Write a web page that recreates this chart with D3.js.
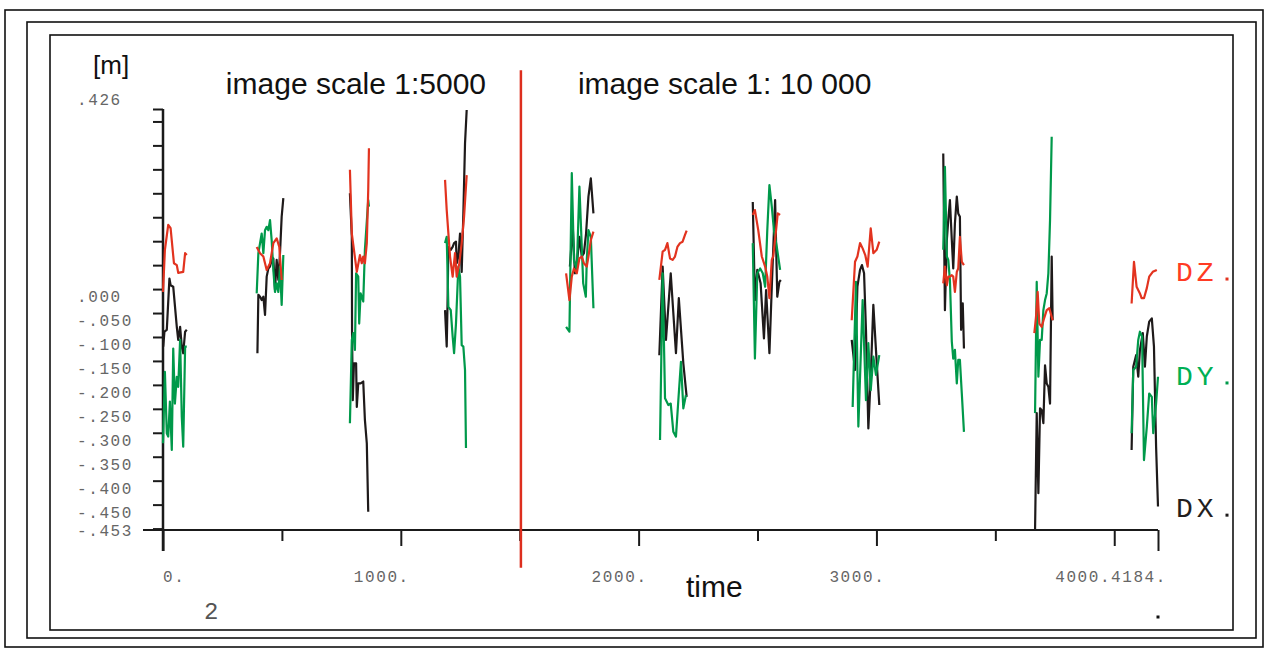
<!DOCTYPE html>
<html>
<head>
<meta charset="utf-8">
<script src="https://cdn.jsdelivr.net/npm/d3@7"></script>
<style>
  body { margin: 0; background: #fff; }
  svg { display: block; }
  .mono { font-family: "Liberation Mono", "Courier New", monospace; }
  .sans { font-family: "Liberation Sans", Arial, sans-serif; }
</style>
</head>
<body>
<div id="chart"></div>
<script>
// time range and ticks
const timeDomain = [0, 4184];
const valueDomain = [-0.453, 0.426];
const timeMinorTicks = [500, 1500, 2500, 3500];
const timeMajorTicks = [0, 1000, 2000, 3000, 4000, 4184];
const timeLabels = ['0.', '1000.', '2000.', '3000.', '4000.', '4184.'];
const valueTicks = [0.426, 0.4, 0.35, 0.3, 0.25, 0.2, 0.15, 0.1, 0.05, 0, -0.05, -0.1,
  -0.15, -0.2, -0.25, -0.3, -0.35, -0.4, -0.45];
const valueLabelValues = [0.426, 0, -0.05, -0.1, -0.15, -0.2, -0.25, -0.3, -0.35, -0.4, -0.45, -0.453];
const valueLabels = ['.426', '.000', '-.050', '-.100', '-.150', '-.200', '-.250', '-.300',
  '-.350', '-.400', '-.450', '-.453'];
const scaleSplit = 1505;
const titles = ['image scale 1:5000', 'image scale 1: 10 000'];

// legend: name, value where the marker sits
const legendNames = ['DZ', 'DY', 'DX'];
const legendValues = [0.071, -0.146, -0.422];

// each series: list of measurement runs, [time, value in m]
const dz = [
  [[0,0.044],[8,0.132],[22,0.184],[32,0.177],[46,0.104],[58,0.100],[64,0.084],[85,0.086],[93,0.125],[100,0.121]],
  [[394,0.138],[408,0.125],[422,0.118],[436,0.090],[450,0.104],[464,0.146],[478,0.156],[489,0.138],[499,0.069]],
  [[786,0.299],[794,0.166],[815,0.086],[828,0.121],[836,0.104],[842,0.118],[849,0.104],[857,0.146],[863,0.257],[866,0.344]],
  [[1186,0.278],[1193,0.215],[1207,0.118],[1218,0.076],[1228,0.125],[1235,0.076],[1246,0.104],[1256,0.146],[1266,0.201],[1277,0.288]],
  [[1695,0.083],[1709,0.027],[1719,0.076],[1728,0.093],[1740,0.083],[1751,0.114],[1761,0.118],[1770,0.104],[1782,0.097],[1789,0.118],[1799,0.152],[1810,0.170]],
  [[2087,0.069],[2101,0.128],[2111,0.132],[2121,0.146],[2132,0.114],[2143,0.111],[2153,0.118],[2163,0.138],[2174,0.146],[2185,0.149],[2195,0.163],[2202,0.172]],
  [[2480,0.205],[2489,0.215],[2503,0.173],[2518,0.118],[2532,0.097],[2541,0.076],[2550,0.031],[2560,0.111],[2566,0.118],[2578,0.173],[2585,0.208],[2595,0.205]],
  [[2896,-0.015],[2910,0.107],[2920,0.118],[2931,0.146],[2942,0.135],[2953,0.121],[2963,0.097],[2976,0.177],[2987,0.125],[3001,0.132],[3012,0.149]],
  [[3281,0.062],[3288,0.097],[3296,0.058],[3302,0.076],[3309,0.076],[3317,0.079],[3323,0.076],[3330,0.044],[3338,0.086],[3344,0.093],[3351,0.159],[3359,0.107],[3368,0.100]],
  [[3664,-0.042],[3671,-0.008],[3678,0.044],[3685,-0.022],[3695,-0.029],[3705,-0.011],[3716,0.006],[3727,0.010],[3737,-0.008],[3741,-0.015]],
  [[4073,0.020],[4083,0.107],[4094,0.055],[4108,0.041],[4115,0.031],[4125,0.031],[4137,0.052],[4147,0.076],[4162,0.086],[4179,0.090]]
];

const dy = [
  [[0,-0.272],[8,-0.123],[16,-0.251],[22,-0.258],[29,-0.185],[37,-0.286],[43,-0.074],[50,-0.189],[58,-0.133],[64,-0.154],[72,-0.056],[79,-0.217],[85,-0.279],[93,-0.070],[100,-0.070]],
  [[394,0.041],[401,0.125],[415,0.166],[422,0.125],[429,0.173],[436,0.180],[443,0.173],[450,0.194],[457,0.152],[464,0.090],[471,0.044],[478,0.062],[485,0.044],[492,0.097],[499,0.017],[506,0.121]],
  [[786,-0.230],[794,-0.056],[800,-0.042],[807,-0.077],[812,0.083],[821,0.076],[825,-0.022],[831,0.041],[836,0.034],[842,0.024],[849,0.132],[863,0.236],[866,0.222]],
  [[1186,0.146],[1193,0.159],[1200,0.013],[1210,0.006],[1218,-0.049],[1224,-0.084],[1232,-0.022],[1242,0.097],[1249,0.076],[1256,-0.067],[1263,-0.070],[1270,-0.119],[1274,-0.282]],
  [[1695,-0.029],[1709,-0.039],[1719,0.292],[1728,0.111],[1740,0.090],[1751,0.264],[1761,0.138],[1767,0.062],[1778,0.034],[1782,0.111],[1789,0.173],[1799,0.159],[1810,0.010]],
  [[2090,-0.265],[2101,0.083],[2111,-0.178],[2125,-0.192],[2135,-0.189],[2146,-0.248],[2157,-0.258],[2167,-0.182],[2178,-0.102],[2188,-0.199],[2199,-0.171]],
  [[2480,0.146],[2489,-0.095],[2499,0.083],[2511,0.093],[2522,0.083],[2532,0.055],[2541,0.173],[2550,0.267],[2560,0.222],[2569,0.173],[2581,0.138],[2595,0.090]],
  [[2900,-0.196],[2914,0.065],[2924,-0.237],[2942,0.027],[2956,-0.182],[2966,-0.063],[2976,-0.161],[2987,-0.091],[2998,-0.129],[3012,-0.088]],
  [[3281,0.132],[3288,0.305],[3296,0.118],[3302,0.111],[3309,0.069],[3317,-0.060],[3323,-0.095],[3330,-0.077],[3338,-0.147],[3344,-0.098],[3351,-0.098],[3359,-0.168],[3368,-0.248]],
  [[3667,-0.209],[3674,0.065],[3681,-0.133],[3688,-0.056],[3695,-0.056],[3702,0.006],[3709,0.027],[3716,0.041],[3723,0.083],[3730,0.194],[3737,0.368]],
  [[4073,-0.251],[4080,-0.119],[4092,-0.112],[4101,-0.056],[4108,-0.039],[4117,-0.049],[4125,-0.307],[4137,-0.237],[4147,-0.168],[4158,-0.175],[4164,-0.251],[4176,-0.189],[4184,-0.133]]
];

const dx = [
  [[1,-0.070],[6,-0.039],[16,-0.035],[27,0.072],[32,0.058],[43,0.055],[58,-0.029],[64,-0.056],[72,-0.029],[79,-0.070],[85,-0.084],[93,-0.039],[100,-0.035]],
  [[397,-0.084],[401,0.038],[408,0.034],[415,0.027],[422,0.034],[429,-0.004],[436,0.076],[443,0.093],[450,0.097],[457,0.111],[464,0.114],[471,0.048],[478,0.111],[485,0.069],[492,0.125],[499,0.201],[506,0.240]],
  [[786,0.250],[794,0.159],[795,-0.042],[798,-0.182],[803,-0.105],[812,-0.105],[815,-0.196],[821,-0.147],[831,-0.147],[842,-0.143],[849,-0.223],[857,-0.272],[863,-0.415]],
  [[1186,0.006],[1193,-0.070],[1196,0.006],[1200,0.138],[1210,0.132],[1218,0.138],[1224,0.146],[1232,0.149],[1235,0.104],[1242,0.118],[1249,0.166],[1256,0.086],[1263,0.208],[1270,0.354],[1277,0.424]],
  [[1711,0.097],[1723,0.180],[1732,0.083],[1742,0.111],[1751,0.159],[1761,0.118],[1770,0.125],[1779,0.166],[1789,0.243],[1799,0.281],[1810,0.208]],
  [[2087,-0.088],[2101,0.097],[2115,-0.056],[2135,0.083],[2157,-0.084],[2169,0.031],[2188,-0.105],[2202,-0.175]],
  [[2480,0.232],[2489,0.027],[2499,0.090],[2513,0.062],[2527,-0.053],[2536,0.048],[2550,-0.084],[2560,0.055],[2574,0.236],[2583,0.034],[2592,0.065],[2598,0.069]],
  [[2896,-0.056],[2910,-0.119],[2920,0.055],[2931,0.090],[2939,0.100],[2948,0.083],[2956,-0.035],[2966,-0.241],[2976,-0.133],[2987,0.017],[2998,-0.077],[3012,-0.192]],
  [[3281,0.333],[3288,0.006],[3296,0.152],[3302,0.194],[3309,0.236],[3317,0.152],[3323,0.093],[3330,0.187],[3338,0.243],[3344,0.208],[3351,0.201],[3356,-0.035],[3363,0.020],[3368,-0.074]],
  [[3667,-0.453],[3674,-0.209],[3681,-0.376],[3688,-0.199],[3695,-0.203],[3702,-0.230],[3709,-0.109],[3716,-0.147],[3723,-0.154],[3730,-0.189],[3737,0.118],[3741,-0.015]],
  [[4073,-0.286],[4080,-0.112],[4092,-0.088],[4101,-0.133],[4108,-0.077],[4120,-0.042],[4129,-0.112],[4137,-0.049],[4147,-0.018],[4158,-0.011],[4167,-0.070],[4176,-0.279],[4184,-0.404]]
];

const colors = { DZ: '#e2331f', DY: '#00994a', DX: '#1e1a1a' };

class Chart {

  constructor(series) {
    this.series = series;
    this.element = document.getElementById('chart');
    this.createChart();
  }

  createChart() {
    this.width = 1271;
    this.height = 649;

    this.svg = d3.select(this.element)
      .append('svg')
        .attr('width', this.width)
        .attr('height', this.height);

    this.addFrames();
    this.createScales();
    this.addAxes();
    this.addTexts();
    this.series.forEach(s => this.addLines(s.runs, colors[s.name]));
    this.addLegend();
  }

  addFrames() {
    const frames = [[5, 10, 1258, 637], [27, 22, 1229, 616], [50, 35, 1183, 595]];
    this.svg.selectAll('rect.frame')
      .data(frames)
      .join('rect')
        .attr('class', 'frame')
        .attr('x', d => d[0])
        .attr('y', d => d[1])
        .attr('width', d => d[2])
        .attr('height', d => d[3])
        .attr('fill', 'none')
        .attr('stroke', '#111')
        .attr('stroke-width', 1.6);
  }

  createScales() {
    this.xScale = d3.scaleLinear().domain(timeDomain).range([163, 1158]);
    this.yScale = d3.scaleLinear().domain(valueDomain).range([530, 109]);
  }

  addAxes() {
    const x = this.xScale, y = this.yScale;
    const base = y(valueDomain[0]);

    // y ticks
    const yAxis = d3.axisLeft(y)
      .tickValues(valueTicks)
      .tickSize(10)
      .tickSizeOuter(0)
      .tickFormat('');
    const gy = this.svg.append('g')
      .attr('transform', `translate(${x(0)},0)`)
      .call(yAxis);
    gy.select('.domain').remove();
    gy.selectAll('.tick line').attr('stroke', '#1a1a1a').attr('stroke-width', 2);

    // x ticks
    const minor = d3.axisBottom(x).tickValues(timeMinorTicks).tickSize(11).tickFormat('');
    const major = d3.axisBottom(x).tickValues(timeMajorTicks.slice(1, 5)).tickSize(16).tickFormat('');
    const ends = d3.axisBottom(x).tickValues([timeDomain[0], timeDomain[1]]).tickSize(21).tickFormat('');
    [minor, major, ends].forEach(ax => {
      const g = this.svg.append('g')
        .attr('transform', `translate(0,${base})`)
        .call(ax);
      g.select('.domain').remove();
      g.selectAll('.tick line').attr('stroke', '#1a1a1a').attr('stroke-width', 2);
    });

    // axis lines
    this.svg.append('line')
      .attr('x1', x(0)).attr('x2', x(0))
      .attr('y1', y(valueDomain[1])).attr('y2', base + 21)
      .attr('stroke', '#1a1a1a').attr('stroke-width', 2.5);
    this.svg.append('line')
      .attr('x1', x(0) - 20).attr('x2', x(timeDomain[1]))
      .attr('y1', base).attr('y2', base)
      .attr('stroke', '#1a1a1a').attr('stroke-width', 2);

    // y labels (the old plotter draws them shifted above their ticks)
    this.svg.append('g')
      .selectAll('text')
      .data(valueLabelValues)
      .join('text')
        .attr('class', 'mono')
        .attr('x', 77)
        .attr('y', (d, i) => {
          let shift = -16;
          if (i === 0) shift = -9;
          if (i === valueLabelValues.length - 1) shift = 1;
          return y(d) + shift + 5;
        })
        .attr('font-size', 16)
        .attr('letter-spacing', 1.6)
        .attr('fill', '#666')
        .text((d, i) => valueLabels[i]);

    // x labels; 4000. sits right against 4184.
    this.svg.append('g')
      .selectAll('text')
      .data(timeMajorTicks)
      .join('text')
        .attr('class', 'mono')
        .attr('x', (d, i) => {
          if (i === 0) return x(d);
          if (i === 4) return x(d) - 3;
          return x(d) + 9;
        })
        .attr('y', 582)
        .attr('text-anchor', (d, i) => i === 0 ? 'start' : 'end')
        .attr('font-size', 16)
        .attr('letter-spacing', 1.6)
        .attr('fill', '#666')
        .text((d, i) => timeLabels[i]);

    // split between image scales
    this.svg.append('line')
      .attr('x1', x(scaleSplit)).attr('x2', x(scaleSplit))
      .attr('y1', y(0.507)).attr('y2', y(-0.532))
      .attr('stroke', '#dd2e1e').attr('stroke-width', 2.5);
  }

  addTexts() {
    const x = this.xScale;
    this.svg.append('text')
      .attr('class', 'sans')
      .attr('x', 93).attr('y', 74)
      .attr('font-size', 26)
      .attr('fill', '#111')
      .text('[m]');
    this.svg.append('text')
      .attr('class', 'sans')
      .attr('x', (x(0) + x(scaleSplit)) / 2 + 14).attr('y', 94)
      .attr('text-anchor', 'middle')
      .attr('font-size', 30)
      .attr('fill', '#111')
      .text(titles[0]);
    this.svg.append('text')
      .attr('class', 'sans')
      .attr('x', x(scaleSplit) + 57).attr('y', 94)
      .attr('font-size', 30)
      .attr('fill', '#111')
      .text(titles[1]);
    this.svg.append('text')
      .attr('class', 'sans')
      .attr('x', 686).attr('y', 597)
      .attr('font-size', 30)
      .attr('fill', '#111')
      .text('time');
    this.svg.append('text')
      .attr('class', 'mono')
      .attr('x', 204).attr('y', 619)
      .attr('font-size', 24)
      .attr('fill', '#555')
      .text('2');
    this.svg.append('rect')
      .attr('x', x(timeDomain[1]) - 1.5).attr('y', 615.5)
      .attr('width', 3).attr('height', 3)
      .attr('fill', '#111');
  }

  addLines(runs, color) {
    const line = d3.line()
      .x(d => this.xScale(d[0]))
      .y(d => this.yScale(d[1]));
    this.svg.append('g')
      .selectAll('path')
      .data(runs)
      .join('path')
        .attr('fill', 'none')
        .attr('stroke', color)
        .attr('stroke-width', 2.2)
        .attr('stroke-linejoin', 'round')
        .attr('d', line);
  }

  addLegend() {
    const y = this.yScale;
    const g = this.svg.append('g')
      .selectAll('g')
      .data(legendNames)
      .join('g')
        .attr('transform', (d, i) => `translate(0,${y(legendValues[i])})`);
    g.append('text')
      .attr('class', 'mono')
      .attr('x', 1176)
      .attr('y', 2)
      .attr('font-size', 28)
      .attr('letter-spacing', 4)
      .attr('fill', d => d3.color(colors[d]).brighter(0.4))
      .text(d => d);
    g.append('rect')
      .attr('x', 1225.5).attr('y', -1.5)
      .attr('width', 3).attr('height', 3)
      .attr('fill', d => colors[d]);
  }

}

new Chart([
  { name: 'DX', runs: dx },
  { name: 'DY', runs: dy },
  { name: 'DZ', runs: dz }
]);
</script>
</body>
</html>
